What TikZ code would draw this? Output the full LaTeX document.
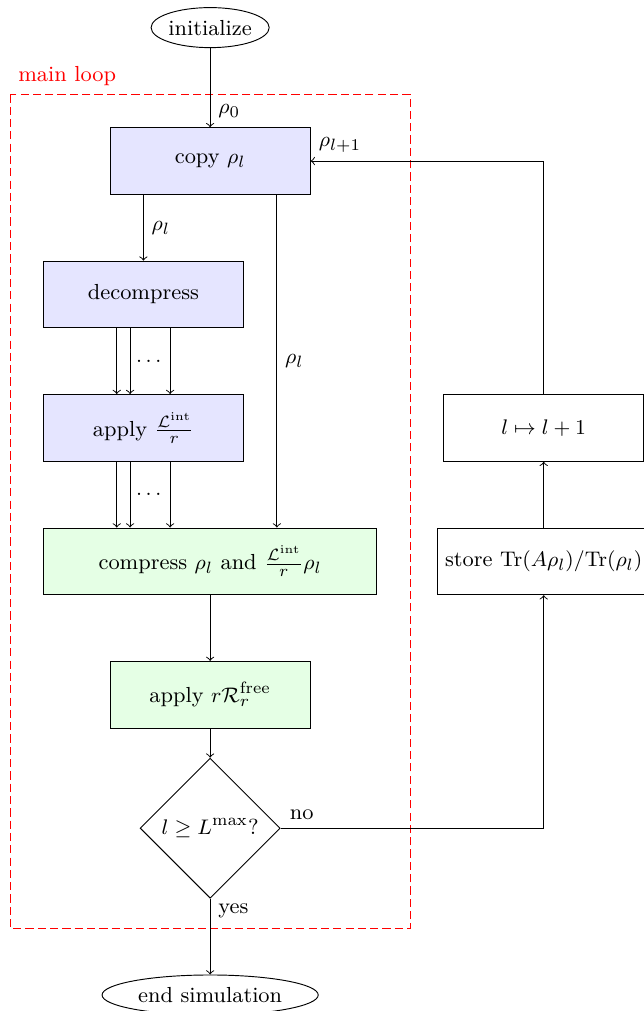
\documentclass[tikz,border=0pt]{standalone}
\usetikzlibrary{shapes.geometric}
\begin{document}
\begin{tikzpicture}[
  every node/.style={font=\fontsize{9.3}{11}\selectfont},
  bluebox/.style={draw, fill=blue!10, minimum width=3cm, minimum height=1cm},
  greenbox/.style={draw, fill=green!10, minimum width=3cm, minimum height=1cm},
  whitebox/.style={draw, minimum width=3cm, minimum height=1cm},
  term/.style={draw, ellipse, inner sep=0pt, minimum height=0.6cm},
  decision/.style={draw, diamond, minimum width=2.1cm, minimum height=2.1cm, inner sep=0pt},
  loopframe/.style={red, dash pattern=on 3.5pt off 1.75pt}
]
\useasboundingbox (-3.15,2.414) rectangle (6.49,-12.74);
\node[term, minimum width=1.65cm] (init) at (0,2) {initialize};
\node[bluebox] (copy) at (0,0) {copy $\rho_l$};
\node[bluebox] (decomp) at (-1,-2) {decompress};
\node[bluebox] (applyL) at (-1,-4) {apply $\frac{\mathcal{L}^{\mathrm{int}}}{r}$};
\node[greenbox, minimum width=5cm] (comp) at (0,-6) {compress $\rho_l$ and $\frac{\mathcal{L}^{\mathrm{int}}}{r}\rho_l$};
\node[greenbox] (applyR) at (0,-8) {apply $r\mathcal{R}_r^{\mathrm{free}}$};
\node[decision] (dec) at (0,-10) {$l\geq L^{\max}$?};
\node[term, minimum width=3.24cm] (end) at (0,-12.5) {end simulation};
\node[whitebox] (store) at (5,-6) {store $\mathrm{Tr}(A\rho_l)/\mathrm{Tr}(\rho_l)$};
\node[whitebox] (incr) at (5,-4) {$l\mapsto l+1$};

\draw[loopframe] (-3,1) rectangle (3,-11.5);
\node[red, anchor=south west] (mainloop) at (-3,1) {main loop};

\draw[->] (init) -- node[pos=0.8, right] {$\rho_0$} (copy);
\draw[->] (copy.south -| decomp.north) -- node[midway, right] {$\rho_l$} (decomp.north);
\draw[->] ([xshift=1cm]copy.south) -- node[midway, right] {$\rho_l$} ([xshift=1cm]comp.north);
\foreach \dx in {-0.4,-0.2,0.4} {
  \draw[->] ([xshift=\dx cm]decomp.south) -- ([xshift=\dx cm]applyL.north);
  \draw[->] ([xshift=\dx cm]applyL.south) -- ([xshift=\dx cm]applyL.south |- comp.north);
}
\node (dots1) at (-0.92,-3) {$\ldots$};
\node (dots2) at (-0.92,-5) {$\ldots$};
\draw[->] (comp) -- (applyR);
\draw[->] (applyR) -- (dec);
\draw[->] (dec) -- node[pos=0.16, right] {yes} (end);
\draw[->] (dec.east) -| node[pos=0.04, above] {no} (store.south);
\draw[->] (store) -- (incr);
\draw[->] (incr.north) |- node[pos=1, above right] {$\rho_{l+1}$} (copy.east);
\end{tikzpicture}
\end{document}
